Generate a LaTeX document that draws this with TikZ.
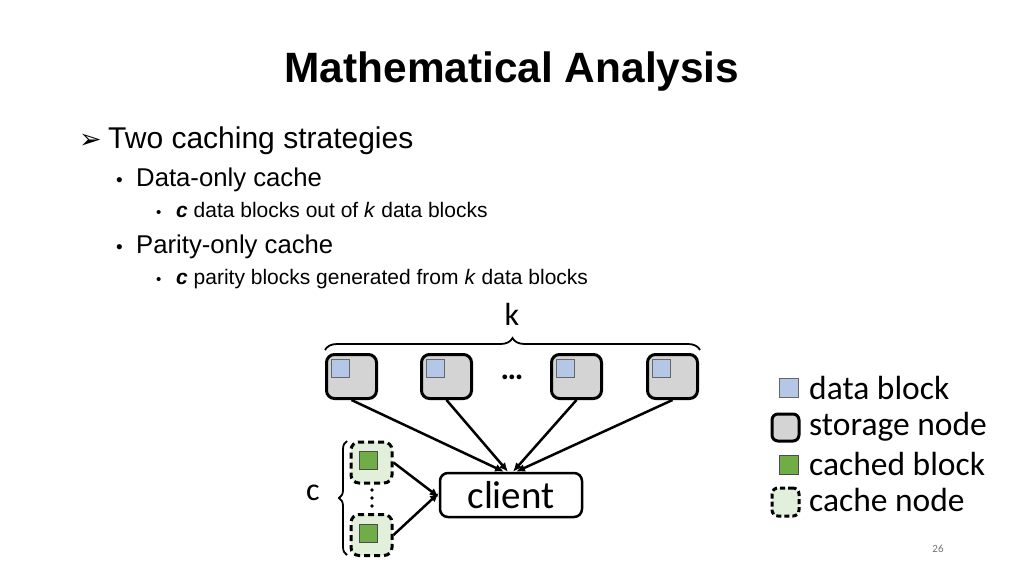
\documentclass[tikz,border=0pt]{standalone}
\usepackage{fontspec}
\setmainfont{Liberation Sans}
\newfontfamily\calibri{Carlito}
\newfontfamily\symfont{DejaVu Sans}
\usetikzlibrary{arrows.meta,positioning,calc,decorations.pathreplacing}
\definecolor{storegray}{HTML}{D4D4D4}
\definecolor{datablue}{HTML}{B4C7E7}
\definecolor{cachegreen}{HTML}{70AD47}
\definecolor{cachelight}{HTML}{E2EFDA}

\begin{document}
\begin{tikzpicture}[x=1pt,y=-1pt]
\tikzset{storenode/.style={draw=black, line width=3pt, rounded corners=8pt, fill=storegray, minimum width=50pt, minimum height=44pt, inner sep=0pt}, cachenode/.style={draw=black, line width=3pt, dash pattern=on 6pt off 4pt, rounded corners=8pt, fill=cachelight, minimum width=41pt, minimum height=41pt, inner sep=0pt}, datablk/.style={draw=black!60, line width=1pt, fill=datablue, minimum size=18pt, inner sep=0pt}, cachedblk/.style={draw=black!70, line width=1pt, fill=cachegreen, minimum size=18pt, inner sep=0pt}, arrowline/.style={-{Latex[length=9pt,width=8pt]}, line width=2.5pt, black}, bracestyle/.style={decorate, decoration={brace, amplitude=#1}, line width=1.8pt}, legtext/.style={anchor=west, font=\calibri\fontsize{33.5}{35}\selectfont, inner sep=0pt}, bodytext/.style={anchor=base west, inner sep=0pt}}
\useasboundingbox[fill=white] (0,0) rectangle (1024,576);
% title and bullets
\node[anchor=base, font=\bfseries\fontsize{42.4}{46}\selectfont, inner sep=0pt] (title) at (512,82) {Mathematical Analysis};
\node[bodytext, font=\symfont\fontsize{27}{29}\selectfont] (b1) at (79,148) {➢};
\node[bodytext, font=\fontsize{30}{32}\selectfont] (t1) at (108,148) {Two caching strategies};
\node[bodytext, font=\fontsize{19}{20}\selectfont] (b2) at (116,186) {•};
\node[bodytext, font=\fontsize{25.7}{27}\selectfont] (t2) at (136,186) {Data-only cache};
\node[bodytext, font=\fontsize{15}{16}\selectfont] (b3) at (156,217) {•};
\node[bodytext, font=\fontsize{21}{23}\selectfont] (t3) at (176,217) {\textbf{\textit{c}} data blocks out of \textit{k} data blocks};
\node[bodytext, font=\fontsize{19}{20}\selectfont] (b4) at (116,253) {•};
\node[bodytext, font=\fontsize{25.7}{27}\selectfont] (t4) at (136,253) {Parity-only cache};
\node[bodytext, font=\fontsize{15}{16}\selectfont] (b5) at (156,284) {•};
\node[bodytext, font=\fontsize{21}{23}\selectfont] (t5) at (176,284) {\textbf{\textit{c}} parity blocks generated from \textit{k} data blocks};
% storage nodes
\foreach \i/\x in {1/351.5,2/446.5,3/576.5,4/672.5}{
  \node[storenode] (s\i) at (\x,376.5) {};
  \node[datablk] (d\i) at ($(s\i.center)+(-11,-8)$) {};
}
\node[font=\bfseries\calibri\fontsize{32}{34}\selectfont, inner sep=0pt] (dots) at (512,377) {\dots};
\draw[bracestyle=12pt] (325,350) -- (700,350);
\node[font=\calibri\fontsize{32}{34}\selectfont, inner sep=0pt] (klabel) at (512,314) {k};
% client
\node[draw=black, line width=2.5pt, rounded corners=8pt, minimum width=142pt, minimum height=44pt, font=\calibri\fontsize{39}{40}\selectfont, inner sep=0pt] (client) at (511,495) {client};
% cache nodes
\node[cachenode] (c1) at (371.5,462.5) {};
\node[cachenode] (c2) at (371.5,535) {};
\node[cachedblk] (g1) at ($(c1.center)+(-3,-2)$) {};
\node[cachedblk] (g2) at ($(c2.center)+(-3,-2)$) {};
\foreach \y in {490,498,506}
  \fill (372,\y) circle (1.8pt);
\draw[bracestyle=8pt] (347,555) -- (347,441);
\node[font=\calibri\fontsize{32}{34}\selectfont, inner sep=0pt] (clabel) at (313,493) {c};
% connectors
\draw[arrowline] (s1.south) -- ([xshift=-7pt]client.north);
\draw[arrowline] (s2.south) -- ([xshift=-3pt]client.north);
\draw[arrowline] (s3.south) -- ([xshift=2pt]client.north);
\draw[arrowline] (s4.south) -- ([xshift=5pt]client.north);
\draw[arrowline] (c1.east) -- ([yshift=-2pt]client.west);
\draw[arrowline] (c2.east) -- ([yshift=2pt]client.west);
% legend
\node[datablk, minimum size=19pt] (ldata) at (789,388) {};
\node[storenode, minimum width=27pt, minimum height=27pt, rounded corners=6pt] (lstore) at (785.5,427.5) {};
\node[cachedblk, minimum size=19pt] (lcached) at (789,464.5) {};
\node[cachenode, minimum width=27pt, minimum height=28pt, rounded corners=6pt, dash pattern=on 5pt off 3pt] (lcache) at (785.5,502) {};
\node[legtext] (ltxt1) at (809,388) {data block};
\node[legtext] (ltxt2) at (809,427) {storage node};
\node[legtext] (ltxt3) at (809,464) {cached block};
\node[legtext] (ltxt4) at (809,500) {cache node};
% page number
\node[font=\calibri\fontsize{11}{12}\selectfont, text=black!55] (pagenum) at (938,549) {26};
\end{tikzpicture}
\end{document}
